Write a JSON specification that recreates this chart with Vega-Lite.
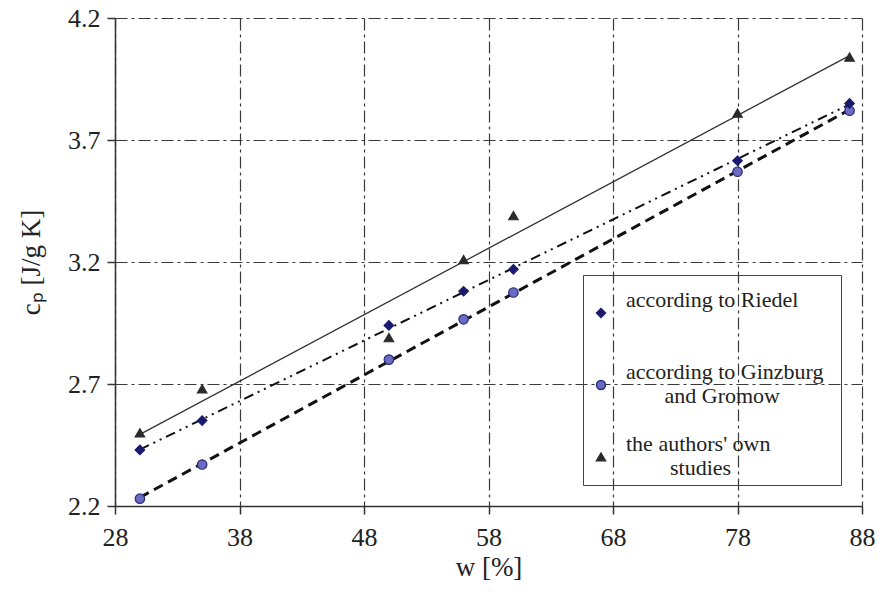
{
  "$schema": "https://vega.github.io/schema/vega-lite/v6.json",
  "width": 747,
  "height": 488,
  "autosize": {"type": "none"},
  "padding": {"left": 115, "top": 18, "right": 16, "bottom": 86},
  "background": "white",
  "config": {
    "view": {"stroke": null},
    "font": "Liberation Serif",
    "axis": {
      "labelFont": "Liberation Serif",
      "titleFont": "Liberation Serif",
      "labelFontSize": 26,
      "titleFontSize": 27,
      "titleFontWeight": "normal",
      "labelColor": "#222",
      "titleColor": "#222",
      "domainColor": "#333",
      "domainWidth": 1.5,
      "tickColor": "#333",
      "tickWidth": 1.5,
      "tickSize": 8,
      "gridColor": "#3a3a3a",
      "gridDash": [12, 4, 3, 4],
      "gridWidth": 1.2,
      "gridOpacity": 1
    }
  },
  "data": {
    "values": [
      {"series": "Ginzburg", "w": 30, "cp": 2.23},
      {"series": "Ginzburg", "w": 35, "cp": 2.37},
      {"series": "Ginzburg", "w": 50, "cp": 2.8},
      {"series": "Ginzburg", "w": 56, "cp": 2.965},
      {"series": "Ginzburg", "w": 60, "cp": 3.075},
      {"series": "Ginzburg", "w": 78, "cp": 3.57},
      {"series": "Ginzburg", "w": 87, "cp": 3.82},
      {"series": "Riedel", "w": 30, "cp": 2.43},
      {"series": "Riedel", "w": 35, "cp": 2.55},
      {"series": "Riedel", "w": 50, "cp": 2.94},
      {"series": "Riedel", "w": 56, "cp": 3.08},
      {"series": "Riedel", "w": 60, "cp": 3.17},
      {"series": "Riedel", "w": 78, "cp": 3.615},
      {"series": "Riedel", "w": 87, "cp": 3.85},
      {"series": "authors", "w": 30, "cp": 2.5},
      {"series": "authors", "w": 35, "cp": 2.68},
      {"series": "authors", "w": 50, "cp": 2.89},
      {"series": "authors", "w": 56, "cp": 3.21},
      {"series": "authors", "w": 60, "cp": 3.39},
      {"series": "authors", "w": 78, "cp": 3.81},
      {"series": "authors", "w": 87, "cp": 4.04}
    ]
  },
  "encoding": {
    "x": {
      "field": "w",
      "type": "quantitative",
      "scale": {"domain": [28, 88], "nice": false},
      "axis": {
        "values": [28, 38, 48, 58, 68, 78, 88],
        "title": "w [%]",
        "labelPadding": 10,
        "titlePadding": 4,
        "labelFlush": false
      }
    },
    "y": {
      "field": "cp",
      "type": "quantitative",
      "scale": {"domain": [2.2, 4.2], "nice": false, "zero": false},
      "axis": {
        "values": [2.2, 2.7, 3.2, 3.7, 4.2],
        "format": ".1f",
        "title": "cₚ [J/g K]",
        "labelPadding": 7,
        "titlePadding": 22,
        "labelFlush": false
      }
    }
  },
  "layer": [
    {
      "transform": [
        {"filter": "datum.series == 'authors'"},
        {"regression": "cp", "on": "w"}
      ],
      "mark": {"type": "line", "color": "#333", "strokeWidth": 1.3}
    },
    {
      "transform": [
        {"filter": "datum.series == 'Ginzburg'"},
        {"regression": "cp", "on": "w"}
      ],
      "mark": {"type": "line", "color": "#111", "strokeWidth": 3, "strokeDash": [10, 6]}
    },
    {
      "transform": [
        {"filter": "datum.series == 'Riedel'"},
        {"regression": "cp", "on": "w"}
      ],
      "mark": {"type": "line", "color": "#111", "strokeWidth": 2, "strokeDash": [10, 5, 2, 5, 2, 5]}
    },
    {
      "mark": {"type": "point", "filled": true, "size": 90, "strokeWidth": 1.2, "opacity": 1},
      "encoding": {
        "shape": {
          "field": "series",
          "type": "nominal",
          "scale": {"domain": ["Riedel", "Ginzburg", "authors"], "range": ["diamond", "circle", "triangle-up"]},
          "legend": {
            "title": "\u200b",
            "titleFontSize": 8,
            "titlePadding": 13,
            "orient": "none",
            "legendX": 468,
            "legendY": 257,
            "strokeColor": "#444",
            "padding": 6,
            "symbolOffset": 1,
            "labelFont": "Liberation Serif",
            "labelFontSize": 22,
            "labelColor": "#222",
            "labelLineHeight": 25,
            "labelLimit": 400,
            "symbolSize": 80,
            "labelOffset": 14,
            "rowPadding": 26,
            "labelBaseline": "line-bottom",
            "labelExpr": "datum.value == 'Riedel' ? ['according to Riedel', '\u200b'] : datum.value == 'Ginzburg' ? ['according to Ginzburg\u00a0\u00a0\u200b', '\u200b\u00a0\u00a0\u00a0\u00a0\u00a0\u00a0\u00a0and Gromow'] : [\"the authors' own\", '\u200b\u2007\u2007\u2007\u2007studies']"
          }
        },
        "color": {
          "field": "series",
          "type": "nominal",
          "scale": {"domain": ["Riedel", "Ginzburg", "authors"], "range": ["#1a1a70", "#6b6bc0", "#2b2b2b"]}
        },
        "stroke": {
          "field": "series",
          "type": "nominal",
          "scale": {"domain": ["Riedel", "Ginzburg", "authors"], "range": ["#1a1a70", "#2a2a80", "#2b2b2b"]}
        }
      }
    }
  ]
}
